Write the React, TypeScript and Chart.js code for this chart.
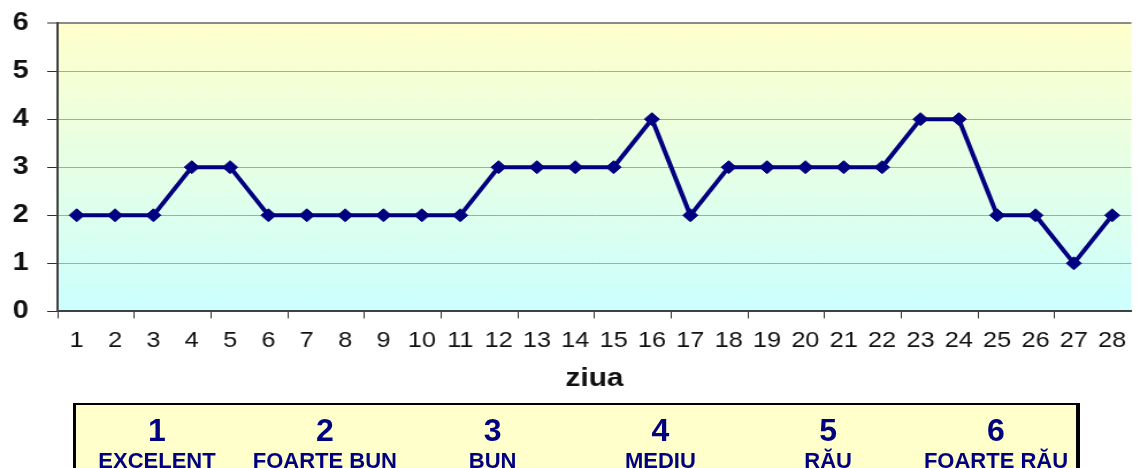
import React, { useEffect, useRef } from "react";
import { Chart, registerables } from "chart.js";

Chart.register(...registerables);

const days = ["1","2","3","4","5","6","7","8","9","10","11","12","13","14","15","16","17","18","19","20","21","22","23","24","25","26","27","28"];
const ratings = [2,2,2,3,3,2,2,2,2,2,2,3,3,3,3,4,2,3,3,3,3,3,4,4,2,2,1,2];
const yMin = 0;
const yMax = 6;
const axisTitle = "ziua";
const scaleNumbers = ["1", "2", "3", "4", "5", "6"];
const scaleLabels = ["EXCELENT", "FOARTE BUN", "BUN", "MEDIU", "RĂU", "FOARTE RĂU"];

const FONT = "Arial, 'Liberation Sans', sans-serif";
const NAVY = "#000080";

const bgPlugin = {
  id: "plotBackground",
  beforeDraw(chart: any) {
    const { ctx, chartArea } = chart;
    if (!chartArea) return;
    const g = ctx.createLinearGradient(0, chartArea.top, 0, chartArea.bottom);
    g.addColorStop(0, "#FFFFCC");
    g.addColorStop(1, "#CCFFFF");
    ctx.save();
    ctx.fillStyle = g;
    ctx.fillRect(chartArea.left, chartArea.top, chartArea.right - chartArea.left, chartArea.bottom - chartArea.top);
    ctx.restore();
  },
};

export default function App() {
  const ref = useRef<HTMLCanvasElement | null>(null);

  useEffect(() => {
    if (!ref.current) return;
    const chart = new Chart(ref.current, {
      type: "line",
      data: {
        labels: days,
        datasets: [
          {
            data: ratings,
            borderColor: NAVY,
            backgroundColor: NAVY,
            borderWidth: 4,
            pointStyle: "rectRot",
            pointRadius: 6.5,
            pointBackgroundColor: NAVY,
            pointBorderColor: NAVY,
            pointBorderWidth: 1,
            tension: 0,
            fill: false,
          },
        ],
      },
      options: {
        animation: false,
        responsive: false,
        devicePixelRatio: 1,
        layout: { padding: { top: 23, right: 0, bottom: 74, left: 0 } },
        plugins: {
          legend: { display: false },
          tooltip: { enabled: false },
          title: { display: false },
        },
        scales: {
          x: {
            type: "category",
            offset: true,
            grid: {
              offset: true,
              drawOnChartArea: false,
              drawTicks: true,
              tickLength: 7,
              tickWidth: 1,
              tickColor: (ctx: any) => (ctx.index % 2 === 0 ? "#303030" : "rgba(0,0,0,0)"),
            },
            border: { display: true, color: "#404040", width: 2 },
            ticks: {
              autoSkip: false,
              maxRotation: 0,
              minRotation: 0,
              padding: 9,
              color: "#111",
              font: { family: FONT, size: 22, weight: "normal" },
            },
            title: {
              display: true,
              text: axisTitle,
              color: "#111",
              font: { family: FONT, size: 26, weight: "bold" },
              padding: { top: 0, bottom: 0 },
            },
          },
          y: {
            min: yMin,
            max: yMax,
            afterFit: (scale: any) => {
              scale.width = 50;
              scale.paddingTop = 10;
              scale.paddingBottom = 10;
            },
            grid: {
              color: (ctx: any) => (ctx.tick && ctx.tick.value === yMax ? "#8a8a8a" : "#a8a8a8"),
              lineWidth: (ctx: any) => (ctx.tick && ctx.tick.value === yMax ? 2 : 1),
              drawTicks: true,
              tickLength: 9,
              tickColor: "#303030",
              tickWidth: 1,
            },
            border: { display: true, color: "#404040", width: 2 },
            ticks: {
              stepSize: 1,
              padding: 16,
              color: "#111",
              font: { family: FONT, size: 25, weight: "bold" },
            },
          },
        },
      },
      plugins: [bgPlugin],
    } as any);
    return () => chart.destroy();
  }, []);

  return (
    <div
      style={{
        position: "fixed",
        left: 0,
        top: 0,
        width: 1140,
        height: 468,
        overflow: "hidden",
        background: "#fff",
      }}
    >
      <canvas
        ref={ref}
        width={991}
        height={468}
        style={{ position: "absolute", left: 0, top: 0, width: "1140px", height: "468px", display: "block" }}
      />
      <div
        style={{
          position: "absolute",
          left: 73,
          top: 403,
          width: 1007,
          height: 90,
          boxSizing: "border-box",
          background: "#FFFFCC",
          borderTop: "2px solid #000",
          borderLeft: "3px solid #000",
          borderRight: "4px solid #000",
          fontFamily: FONT,
          color: NAVY,
          fontWeight: "bold",
        }}
      >
        {scaleNumbers.map((n, i) => {
          const cx = 157 + 167.8 * i - 76;
          return (
            <React.Fragment key={n}>
              <div
                style={{
                  position: "absolute",
                  left: cx - 100,
                  width: 200,
                  top: 414 - 405,
                  textAlign: "center",
                  fontSize: 32,
                  lineHeight: "32px",
                  whiteSpace: "nowrap",
                }}
              >
                {n}
              </div>
              <div
                style={{
                  position: "absolute",
                  left: cx - 100,
                  width: 200,
                  top: 450 - 405,
                  textAlign: "center",
                  fontSize: 22,
                  lineHeight: "22px",
                  whiteSpace: "nowrap",
                }}
              >
                {scaleLabels[i]}
              </div>
            </React.Fragment>
          );
        })}
      </div>
    </div>
  );
}
